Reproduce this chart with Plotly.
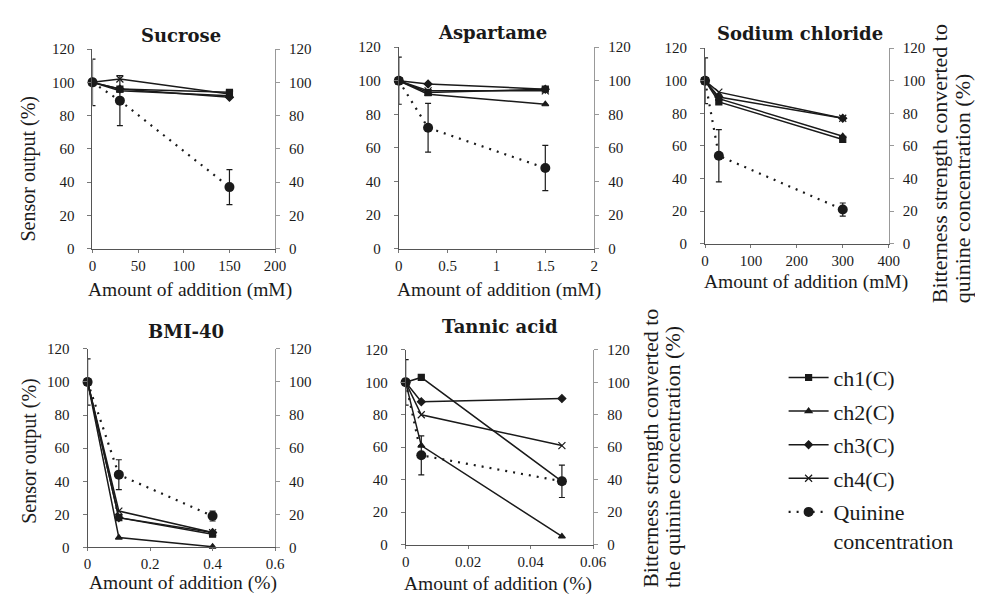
import plotly.graph_objects as go

# ---------------- data ----------------
titles = ["Sucrose", "Aspartame", "Sodium chloride", "BMI-40", "Tannic acid"]
x_units = ["Amount of addition (mM)", "Amount of addition (mM)", "Amount of addition (mM)",
           "Amount of addition (%)", "Amount of addition (%)"]

sucrose_x = [0, 30, 150]
sucrose_ch1 = [100, 96, 94]
sucrose_ch2 = [100, 95, 92]
sucrose_ch3 = [100, 96, 91]
sucrose_ch4 = [100, 102, 93]
sucrose_quin = [100, 89, 37]
sucrose_quin_err = [14, 15, 10.5]

aspartame_x = [0, 0.3, 1.5]
aspartame_ch1 = [100, 93, 95]
aspartame_ch2 = [100, 92, 86]
aspartame_ch3 = [100, 98, 95]
aspartame_ch4 = [100, 94, 94]
aspartame_quin = [100, 72, 48]
aspartame_quin_err = [14, 14.5, 13.5]

nacl_x = [0, 30, 300]
nacl_ch1 = [100, 87, 64]
nacl_ch2 = [100, 89, 66]
nacl_ch3 = [100, 90, 77]
nacl_ch4 = [100, 93, 77]
nacl_quin = [100, 54, 21]
nacl_quin_err = [14, 16, 4]

bmi_x = [0, 0.1, 0.4]
bmi_ch1 = [100, 18, 8]
bmi_ch2 = [100, 6, 0.5]
bmi_ch3 = [100, 18, 9]
bmi_ch4 = [100, 22, 9]
bmi_quin = [100, 44, 19]
bmi_quin_err = [14, 9, 3]

tannic_x = [0, 0.005, 0.05]
tannic_ch1 = [100, 103, 39]
tannic_ch2 = [100, 61, 5]
tannic_ch3 = [100, 88, 90]
tannic_ch4 = [100, 80, 61]
tannic_quin = [100, 55, 39]
tannic_quin_err = [14, 12, 10]

x_ranges = [[0, 200], [0, 2], [0, 400], [0, 0.6], [0, 0.06]]
x_dticks = [50, 0.5, 100, 0.2, 0.02]

series_names = ["ch1(C)", "ch2(C)", "ch3(C)", "ch4(C)", "Quinine<br>concentration"]

panels = [
    (sucrose_x, [sucrose_ch1, sucrose_ch2, sucrose_ch3, sucrose_ch4], sucrose_quin, sucrose_quin_err),
    (aspartame_x, [aspartame_ch1, aspartame_ch2, aspartame_ch3, aspartame_ch4], aspartame_quin, aspartame_quin_err),
    (nacl_x, [nacl_ch1, nacl_ch2, nacl_ch3, nacl_ch4], nacl_quin, nacl_quin_err),
    (bmi_x, [bmi_ch1, bmi_ch2, bmi_ch3, bmi_ch4], bmi_quin, bmi_quin_err),
    (tannic_x, [tannic_ch1, tannic_ch2, tannic_ch3, tannic_ch4], tannic_quin, tannic_quin_err),
]

# ---------------- layout geometry (pixels) ----------------
W, H = 983, 601
boxes = [  # left, right, top, bottom in px
    (82, 268, 34, 239),
    (394, 593, 32, 239),
    (706, 893, 33, 234),
    (77, 268, 342, 546),
    (401, 592, 343, 543),
]
title_pos = [(172, 20), (489, 17), (803, 18), (177, 324), (497, 319)]
xtitle_pos = [(181, 282), (496, 281), (809, 273), (174, 582), (495, 584)]

INK = "#1a1a1a"
FONT = "Liberation Serif"
TFONT = "DejaVu Serif"
markers = ["square", "triangle-up", "diamond", "x-thin"]

fig = go.Figure()

for i, (xs, chs, quin, qerr) in enumerate(panels):
    xa = "x" if i == 0 else f"x{i+1}"
    ya = "y" if i == 0 else f"y{i+1}"
    yr = f"y{i+6}"
    for k, ch in enumerate(chs):
        fig.add_trace(go.Scatter(
            x=xs, y=ch, xaxis=xa, yaxis=ya, mode="lines+markers",
            name=series_names[k], legendgroup=series_names[k], showlegend=(i == 0),
            line=dict(color=INK, width=1.5),
            marker=dict(symbol=markers[k], size=6 if k != 3 else 7, color=INK,
                        line=dict(color=INK, width=1.2)),
            cliponaxis=False,
        ))
    fig.add_trace(go.Scatter(
        x=xs, y=quin, xaxis=xa, yaxis=yr, mode="lines+markers",
        name=series_names[4], legendgroup="quin", showlegend=(i == 0),
        line=dict(color=INK, width=2.2, dash="2px,6px"),
        marker=dict(symbol="circle", size=10, color=INK),
        error_y=dict(type="data", array=qerr, visible=True, color=INK, thickness=1.2, width=3),
        cliponaxis=False,
    ))

layout = dict(
    width=W, height=H,
    margin=dict(l=0, r=0, t=0, b=0),
    paper_bgcolor="white", plot_bgcolor="white",
    font=dict(family=FONT, color=INK, size=15),
    showlegend=True,
    legend=dict(
        x=786 / W, y=1 - 350 / H, xanchor="left", yanchor="top",
        font=dict(family=FONT, size=22, color=INK),
        tracegroupgap=2, itemwidth=40, valign="top",
        bgcolor="rgba(0,0,0,0)",
    ),
)

annotations = []
for i, (l, r, t, b) in enumerate(boxes):
    n = "" if i == 0 else str(i + 1)
    xd = [l / W, r / W]
    yd = [1 - b / H, 1 - t / H]
    layout[f"xaxis{n}"] = dict(
        domain=xd, range=x_ranges[i], dtick=x_dticks[i], tick0=0,
        anchor=f"y{n}", showgrid=False, zeroline=False,
        showline=True, linecolor="#555", linewidth=1,
        ticks="outside", ticklen=3, tickcolor="#777",
        tickfont=dict(size=15, family=FONT, color=INK),
    )
    layout[f"yaxis{n}"] = dict(
        domain=yd, range=[0, 120], dtick=20, tick0=0,
        anchor=f"x{n}", showgrid=False, zeroline=False,
        showline=True, linecolor="#555", linewidth=1,
        ticks="outside", ticklen=4, tickcolor="#777", ticklabelstandoff=10,
        tickfont=dict(size=15, family=FONT, color=INK),
    )
    layout[f"yaxis{i+6}"] = dict(
        domain=yd, range=[0, 120], dtick=20, tick0=0,
        overlaying=f"y{n}", side="right", anchor=f"x{n}",
        showgrid=False, zeroline=False,
        showline=True, linecolor="#999", linewidth=1,
        ticks="outside", ticklen=4, tickcolor="#999", ticklabelstandoff=6,
        tickfont=dict(size=15, family=FONT, color=INK),
    )
    tx, ty = title_pos[i]
    annotations.append(dict(text=f"<b>{titles[i]}</b>", x=tx / W, y=1 - ty / H,
                            xref="paper", yref="paper", showarrow=False,
                            xanchor="center", yanchor="middle",
                            font=dict(size=18, family=TFONT, color=INK)))
    ax_, ay_ = xtitle_pos[i]
    annotations.append(dict(text=x_units[i], x=ax_ / W, y=1 - ay_ / H,
                            xref="paper", yref="paper", showarrow=False,
                            xanchor="center", yanchor="middle",
                            font=dict(size=19.5, family=FONT, color=INK)))

# left y titles
for cy in [157, 447]:
    annotations.append(dict(text="Sensor output (%)", x=17 / W, y=1 - cy / H,
                            xref="paper", yref="paper", showarrow=False, textangle=-90,
                            xanchor="center", yanchor="middle",
                            font=dict(size=20, family=FONT, color=INK)))
# right y titles (one annotation per line)
right_titles = [
    ("Bitterness strength converted to", 945, 297),
    ("quinine concentration (%)", 968, 297),
    ("Bitterness strength converted to", 651, 590),
    ("the quinine concentration (%)", 673, 590),
]
for txt, cx, by in right_titles:
    annotations.append(dict(text=txt, x=cx / W, y=1 - by / H, xref="paper", yref="paper",
                            showarrow=False, textangle=-90,
                            xanchor="center", yanchor="bottom",
                            font=dict(size=22, family=FONT, color=INK)))

layout["annotations"] = annotations
fig.update_layout(**layout)

fig.write_html("out.html")
